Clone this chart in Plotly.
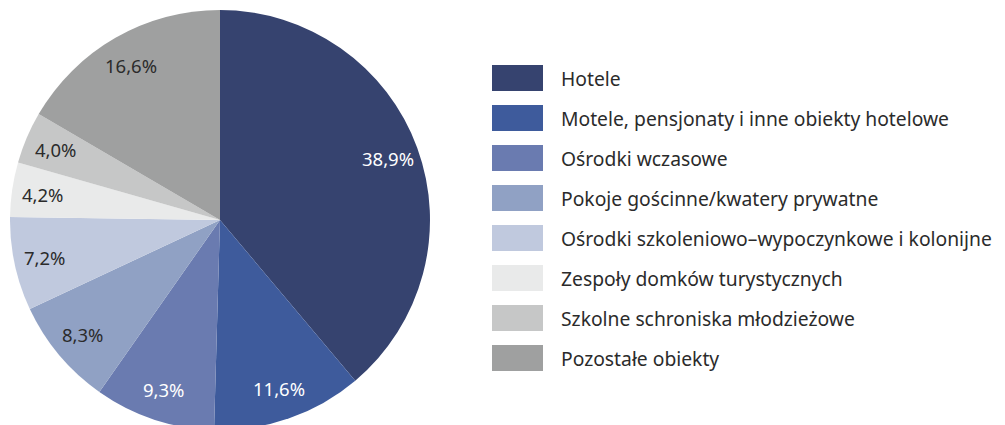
import math
import plotly.graph_objects as go

# Data
categories = [
    "Hotele",
    "Motele, pensjonaty i inne obiekty hotelowe",
    "Ośrodki wczasowe",
    "Pokoje gościnne/kwatery prywatne",
    "Ośrodki szkoleniowo–wypoczynkowe i kolonijne",
    "Zespoły domków turystycznych",
    "Szkolne schroniska młodzieżowe",
    "Pozostałe obiekty",
]
shares = [38.9, 11.6, 9.3, 8.3, 7.2, 4.2, 4.0, 16.6]
labels_pl = ["38,9%", "11,6%", "9,3%", "8,3%", "7,2%", "4,2%", "4,0%", "16,6%"]

colors = ["#36436f", "#3e5b9c", "#6a7bb0", "#90a1c4", "#c0c9de",
          "#e9eaea", "#c6c7c7", "#9fa0a0"]
text_colors = ["white", "white", "white", "#2b2b2b", "#2b2b2b",
               "#2b2b2b", "#2b2b2b", "#2b2b2b"]

FONT = "Noto Sans"

# plot area in pixels (axis units = pixels)
W, H = 1005, 420
cx, cy, R = 212, 210, 210

fig = go.Figure()
fig.add_trace(go.Pie(
    labels=categories,
    values=shares,
    text=labels_pl,
    textinfo="none",
    sort=False,
    direction="clockwise",
    rotation=0,
    marker=dict(colors=colors, line=dict(width=0)),
    hoverinfo="label+text",
    showlegend=False,
    domain=dict(x=[0, 2 * cx / W], y=[0, 1]),
))

annotations = []
shapes = []

# percentage labels placed along each slice's mid-angle
total = sum(shares)
cum = 0
for val, lab, tc in zip(shares, labels_pl, text_colors):
    mid = (cum + val / 2) / total * 2 * math.pi
    cum += val
    annotations.append(dict(
        x=cx + 0.85 * R * math.sin(mid), y=cy + 0.85 * R * math.cos(mid),
        xref="x", yref="y", text=lab, showarrow=False,
        xanchor="center", yanchor="middle",
        font=dict(family=FONT, size=18.5, color=tc),
    ))

# Legend drawn by hand (wide swatches)
for i, (cat, col) in enumerate(zip(categories, colors)):
    yc = 352 - 40 * i
    shapes.append(dict(
        type="rect", xref="x", yref="y",
        x0=484, x1=535, y0=yc - 13, y1=yc + 13,
        fillcolor=col, line=dict(width=0), layer="above",
    ))
    annotations.append(dict(
        x=551, y=yc, xref="x", yref="y",
        text=cat, showarrow=False, xanchor="left", yanchor="middle",
        font=dict(family=FONT, size=19.3, color="#2b2b2b"),
    ))

fig.update_layout(
    width=1005,
    height=425,
    margin=dict(l=0, r=0, t=2, b=3),
    paper_bgcolor="white",
    plot_bgcolor="rgba(0,0,0,0)",
    xaxis=dict(range=[0, W], visible=False, fixedrange=True, domain=[0, 1]),
    yaxis=dict(range=[0, H], visible=False, fixedrange=True, domain=[0, 1]),
    shapes=shapes,
    annotations=annotations,
)

fig.write_html("out.html")
